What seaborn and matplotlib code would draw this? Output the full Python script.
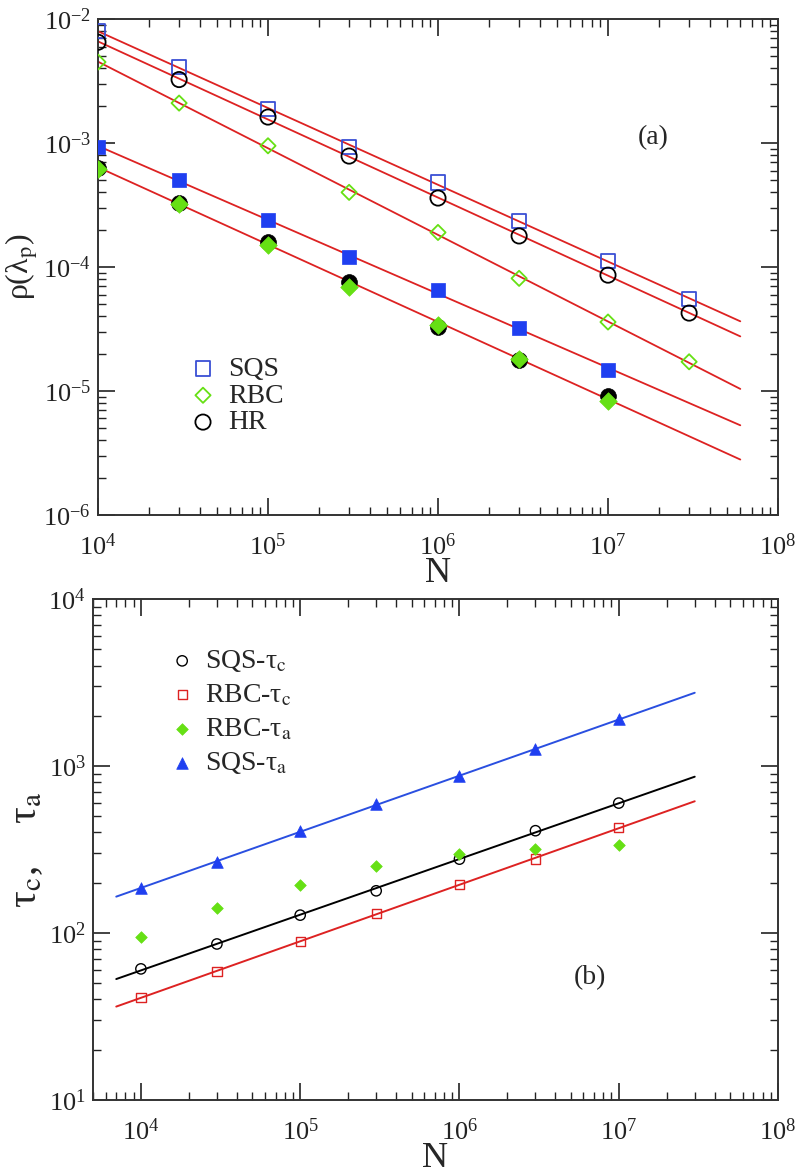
import numpy as np
import seaborn as sns
import matplotlib.pyplot as plt

# panel (a): rho(lambda_p) vs N, open and filled symbols
n_open = [1e4, 3e4, 1e5, 3e5, 1e6, 3e6, 1e7, 3e7]
sqs_open = [8.0e-3, 4.1e-3, 1.88e-3, 9.3e-4, 4.8e-4, 2.35e-4, 1.12e-4, 5.5e-5]
rbc_open = [4.5e-3, 2.1e-3, 9.5e-4, 4.0e-4, 1.9e-4, 8.1e-5, 3.6e-5, 1.72e-5]
hr_open = [6.5e-3, 3.25e-3, 1.62e-3, 7.85e-4, 3.6e-4, 1.78e-4, 8.6e-5, 4.25e-5]

n_fill = [1e4, 3e4, 1e5, 3e5, 1e6, 3e6, 1e7]
sqs_fill = [9.3e-4, 5.0e-4, 2.4e-4, 1.2e-4, 6.5e-5, 3.2e-5, 1.48e-5]
rbc_fill = [6.2e-4, 3.2e-4, 1.5e-4, 6.9e-5, 3.4e-5, 1.8e-5, 8.3e-6]
hr_fill = [6.3e-4, 3.3e-4, 1.58e-4, 7.6e-5, 3.3e-5, 1.78e-5, 9.1e-6]
fit_range_a = [1e4, 6e7]

# panel (b): relaxation times vs N
n_b = [1e4, 3e4, 1e5, 3e5, 1e6, 3e6, 1e7]
sqs_tc = [61, 86, 128, 179, 277, 410, 600]
rbc_tc = [41, 59, 89, 131, 196, 277, 427]
rbc_ta = [95, 141, 195, 252, 296, 318, 337]
sqs_ta = [186, 266, 410, 590, 870, 1260, 1900]
fit_range_b = [7e3, 3e7]

BLUE_OPEN = '#3a4fd4'
BLUE = '#1f3ff0'
GREEN = '#66e014'
RED = '#dd2222'
BLUE_LINE = '#2a4fe0'

sns.set_theme(style='ticks')
plt.rcParams['font.family'] = ['Liberation Serif', 'DejaVu Serif']
plt.rcParams['mathtext.fontset'] = 'stix'
plt.rcParams['axes.unicode_minus'] = False


def power_fit(x, y, xr):
    # straight line in log-log space
    p = np.polyfit(np.log10(x), np.log10(y), 1)
    lx = np.linspace(np.log10(xr[0]), np.log10(xr[1]), 60)
    return 10 ** lx, 10 ** np.polyval(p, lx)


def style_axes(ax):
    ax.set_xscale('log')
    ax.set_yscale('log')
    ax.tick_params(which='both', direction='in', top=True, right=True,
                   labelsize=19, colors='#222222')
    ax.tick_params(which='major', length=12, width=1.2)
    ax.tick_params(which='minor', length=6, width=1.0)
    ax.tick_params(axis='x', which='major', pad=13)
    ax.tick_params(axis='y', which='major', pad=5)
    for s in ax.spines.values():
        s.set_linewidth(1.4)
        s.set_color('#333333')


fig = plt.figure(figsize=(7.96, 11.76), dpi=100)
ax1 = fig.add_axes([0.1231, 0.5621, 0.8543, 0.4217])
ax2 = fig.add_axes([0.1168, 0.0646, 0.8606, 0.4260])

# ---- panel (a)
for y in [sqs_open, hr_open, rbc_open, sqs_fill, hr_fill]:
    xs, ys = power_fit(n_open[:len(y)], y, fit_range_a)
    sns.lineplot(x=xs, y=ys, ax=ax1, color=RED, lw=1.3, sort=False, zorder=1)

sns.scatterplot(x=n_open, y=sqs_open, ax=ax1, marker='s', s=110, color=BLUE_OPEN,
                facecolor='none', edgecolor=BLUE_OPEN, linewidth=1.3, label='SQS', zorder=3)
sns.scatterplot(x=n_open, y=rbc_open, ax=ax1, marker='D', s=60, color=GREEN,
                facecolor='none', edgecolor=GREEN, linewidth=1.3, label='RBC', zorder=3)
sns.scatterplot(x=n_open, y=hr_open, ax=ax1, marker='o', s=120, color='black',
                facecolor='none', edgecolor='black', linewidth=1.3, label='HR', zorder=3)
sns.scatterplot(x=n_fill, y=sqs_fill, ax=ax1, marker='s', s=110, color=BLUE,
                edgecolor=BLUE, linewidth=0.5, zorder=3)
sns.scatterplot(x=n_fill, y=hr_fill, ax=ax1, marker='o', s=130, color='black',
                edgecolor='black', linewidth=0.5, zorder=3)
sns.scatterplot(x=n_fill, y=rbc_fill, ax=ax1, marker='D', s=80, color=GREEN,
                edgecolor=GREEN, linewidth=0.5, zorder=4)

style_axes(ax1)
ax1.set_xlim(1e4, 1e8)
ax1.set_ylim(1e-6, 1e-2)
ax1.set_xlabel('N', fontsize=26, labelpad=-2)
ax1.set_ylabel(r'ρ(λ$_{\rm p}$)', fontsize=23)
ax1.yaxis.set_label_coords(-0.085, 0.5)
ax1.text(0.816, 0.76, '(a)', transform=ax1.transAxes, fontsize=20,
         ha='center', va='center')
ax1.legend(loc='upper left', bbox_to_anchor=(0.134, 0.320), frameon=False,
           fontsize=20, handlelength=1.0, handletextpad=0.4, labelspacing=0.05,
           borderpad=0, borderaxespad=0)

# ---- panel (b)
for y, c in [(sqs_ta, BLUE_LINE), (sqs_tc, 'black'), (rbc_tc, RED)]:
    xs, ys = power_fit(n_b, y, fit_range_b)
    sns.lineplot(x=xs, y=ys, ax=ax2, color=c, lw=1.4, sort=False, zorder=1)

sns.scatterplot(x=n_b, y=sqs_tc, ax=ax2, marker='o', s=55, color='black',
                facecolor='none', edgecolor='black', linewidth=1.0,
                label=r'SQS-τ$_{\rm c}$', zorder=3)
sns.scatterplot(x=n_b, y=rbc_tc, ax=ax2, marker='s', s=45, color=RED,
                facecolor='none', edgecolor=RED, linewidth=1.0,
                label=r'RBC-τ$_{\rm c}$', zorder=3)
sns.scatterplot(x=n_b, y=rbc_ta, ax=ax2, marker='D', s=35, color=GREEN,
                edgecolor=GREEN, linewidth=0.5,
                label=r'RBC-τ$_{\rm a}$', zorder=3)
sns.scatterplot(x=n_b, y=sqs_ta, ax=ax2, marker='^', s=70, color=BLUE,
                edgecolor=BLUE, linewidth=0.5,
                label=r'SQS-τ$_{\rm a}$', zorder=3)

style_axes(ax2)
ax2.set_xlim(5e3, 1e8)
ax2.set_ylim(1e1, 1e4)
ax2.set_xlabel('N', fontsize=26, labelpad=-2)
ax2.set_ylabel(r'τ$_{\rm c}$,    τ$_{\rm a}$', fontsize=30)
ax2.yaxis.set_label_coords(-0.07, 0.5)
ax2.text(0.726, 0.245, '(b)', transform=ax2.transAxes, fontsize=20,
         ha='center', va='center')
ax2.legend(loc='upper left', bbox_to_anchor=(0.114, 0.902), frameon=False,
           fontsize=20, handlelength=0.8, handletextpad=0.43, labelspacing=0.3,
           borderpad=0, borderaxespad=0)

fig.savefig('out.png', dpi=100, facecolor='white')
